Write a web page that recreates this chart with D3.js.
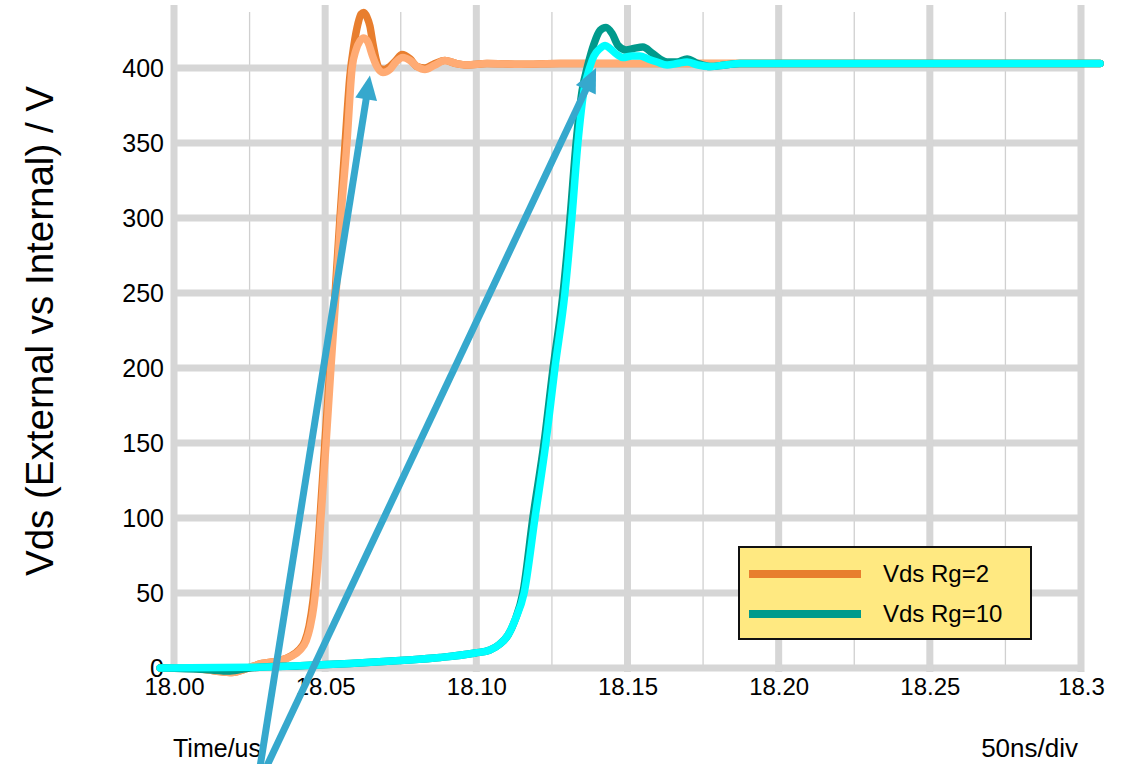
<!DOCTYPE html>
<html>
<head>
<meta charset="utf-8">
<script src="https://cdn.jsdelivr.net/npm/d3@7"></script>
<style>
  html, body { margin: 0; padding: 0; background: #fff; }
  svg { display: block; font-family: "Liberation Sans", Arial, Helvetica, sans-serif; }
</style>
</head>
<body>
<svg id="chart" width="1133" height="764"></svg>
<script>
// Switching waveforms: drain-source voltage, measured at the terminals (external)
// and at the die (internal), for gate resistors of 2 and 10 ohm. Time in µs, volts.

const timeTicks = [18.00, 18.05, 18.10, 18.15, 18.20, 18.25, 18.30];
const timeTickLabels = ["18.00", "18.05", "18.10", "18.15", "18.20", "18.25", "18.3"];
const timeMinorTicks = [18.025, 18.075, 18.125, 18.175, 18.225, 18.275];
const voltTicks = [0, 50, 100, 150, 200, 250, 300, 350, 400];

// Rg = 2, external Vds
const rg2ExtTime = [17.9954, 18.0053, 18.0136, 18.0192, 18.0245, 18.0291, 18.0351, 18.0387, 18.0413, 18.0433,
  18.0447, 18.0460, 18.0470, 18.0483, 18.0499, 18.0516, 18.0533, 18.0549, 18.0566, 18.0582,
  18.0595, 18.0609, 18.0619, 18.0628, 18.0638, 18.0648, 18.0658, 18.0668, 18.0678, 18.0695,
  18.0714, 18.0734, 18.0754, 18.0781, 18.0804, 18.0830, 18.0863, 18.0896, 18.0933, 18.0969,
  18.1035, 18.1144, 18.1277, 18.1475, 18.1740, 18.2071, 18.2401, 18.2732, 18.3063];
const rg2ExtVolt = [0, 0, -2, -3, 0, 3, 5, 8, 12, 18,
  28, 45, 65, 100, 150, 200, 250, 300, 350, 395,
  415, 430, 436, 437, 434, 428, 416, 406, 400, 399,
  401, 405, 409, 406, 401, 400, 403, 405, 403, 402,
  403, 402.5, 403, 403, 403, 403, 403, 403, 403];

// Rg = 2, internal Vds
const rg2IntTime = [17.9954, 18.0053, 18.0136, 18.0192, 18.0245, 18.0291, 18.0351, 18.0390, 18.0417, 18.0437,
  18.0450, 18.0463, 18.0473, 18.0486, 18.0503, 18.0519, 18.0536, 18.0552, 18.0572, 18.0589,
  18.0602, 18.0615, 18.0628, 18.0642, 18.0655, 18.0671, 18.0691, 18.0714, 18.0734, 18.0757,
  18.0781, 18.0804, 18.0830, 18.0863, 18.0896, 18.0933, 18.0969, 18.1035, 18.1144, 18.1277,
  18.1475, 18.1740, 18.2071, 18.2401, 18.2732, 18.3063];
const rg2IntVolt = [0, 0, -2, -3, 0, 3, 5, 8, 12, 18,
  27, 42, 62, 100, 150, 200, 250, 300, 350, 400,
  412, 418, 420, 417, 409, 401, 397, 399, 404, 407,
  405, 401, 399, 402, 405, 403, 402, 403, 402.5, 403,
  403, 403, 403, 403, 403, 403];

// Rg = 10, external Vds
const rg10ExtTime = [17.9954, 18.0103, 18.0185, 18.0251, 18.0417, 18.0582, 18.0748, 18.0880, 18.0996, 18.1045,
  18.1078, 18.1105, 18.1128, 18.1154, 18.1187, 18.1224, 18.1254, 18.1287, 18.1310, 18.1330,
  18.1350, 18.1369, 18.1389, 18.1409, 18.1429, 18.1449, 18.1469, 18.1495, 18.1521, 18.1551,
  18.1581, 18.1607, 18.1631, 18.1664, 18.1697, 18.1733, 18.1773, 18.1822, 18.1872, 18.2071,
  18.2401, 18.2732, 18.3063];
const rg10ExtVolt = [0, -1, -2, 0, 1.5, 3, 5, 7, 10, 12,
  16, 22, 32, 50, 100, 150, 200, 250, 300, 350,
  385, 402, 416, 425, 427, 423, 415, 412, 413, 414,
  410, 406, 404, 404, 406, 403, 401, 402, 403, 403,
  403, 403, 403];

// Rg = 10, internal Vds
const rg10IntTime = [17.9954, 18.0251, 18.0417, 18.0582, 18.0748, 18.0880, 18.0996, 18.1045, 18.1078, 18.1105,
  18.1128, 18.1158, 18.1194, 18.1230, 18.1260, 18.1293, 18.1316, 18.1336, 18.1356, 18.1376,
  18.1389, 18.1409, 18.1426, 18.1442, 18.1465, 18.1485, 18.1515, 18.1541, 18.1568, 18.1598,
  18.1631, 18.1664, 18.1697, 18.1733, 18.1773, 18.1822, 18.1872, 18.2071, 18.2401, 18.2732,
  18.3063];
const rg10IntVolt = [0, 0.5, 1.5, 3, 5, 7, 10, 12, 16, 22,
  32, 50, 100, 150, 200, 250, 300, 350, 385, 401,
  408, 413, 415, 413, 409, 407, 408, 408, 406, 404,
  402, 403, 404, 402, 401, 402, 403, 403, 403, 403,
  403];

// Annotation arrows: [start time, start volt, tip time, tip volt]
const arrowA = [18.0284, -66.7, 18.0648, 395];
const arrowB = [18.0304, -66.7, 18.1396, 400];

const legendLabels = ["Vds Rg=2", "Vds Rg=10"];

const gridColor = "#d6d6d6";
const colRg2Ext = "#e87e2e";
const colRg2Int = "#ffab74";
const colRg10Ext = "#009a8c";
const colRg10Int = "#00ffff";
const arrowColor = "#36a8cd";

const svg = d3.select("#chart");

const x = d3.scaleLinear().domain([18.0, 18.3]).range([174, 1081]);
const y = d3.scaleLinear().domain([0, 400]).range([668, 68]);
const vTop = 442;

// grid
const grid = svg.append("g");
grid.selectAll("line.minor").data(timeMinorTicks).join("line")
  .attr("x1", d => x(d)).attr("x2", d => x(d))
  .attr("y1", y(vTop) + 7).attr("y2", y(0))
  .attr("stroke", "#d0d0d0").attr("stroke-width", 1.3);
grid.selectAll("line.h").data(voltTicks).join("line")
  .attr("x1", x(18.0) - 2).attr("x2", x(18.3) + 2)
  .attr("y1", d => y(d)).attr("y2", d => y(d))
  .attr("stroke", gridColor).attr("stroke-width", 7);
grid.selectAll("line.v").data(timeTicks).join("line")
  .attr("x1", d => x(d)).attr("x2", d => x(d))
  .attr("y1", y(vTop)).attr("y2", y(0) + 4)
  .attr("stroke", gridColor).attr("stroke-width", 7);

// axes labels
const yAxis = d3.axisLeft(y).tickValues(voltTicks).tickSize(0).tickPadding(0);
const gy = svg.append("g").attr("transform", "translate(164,0)").call(yAxis);
gy.select(".domain").remove();
gy.selectAll("text").attr("font-size", 25).attr("fill", "#000")
  .attr("font-family", "Liberation Sans, Arial, sans-serif");

const xAxis = d3.axisBottom(x).tickValues(timeTicks).tickSize(0).tickPadding(0)
  .tickFormat((d, i) => timeTickLabels[i]);
const gx = svg.append("g").attr("transform", "translate(0,678)").call(xAxis);
gx.select(".domain").remove();
gx.selectAll("text").attr("font-size", 24).attr("fill", "#000")
  .attr("font-family", "Liberation Sans, Arial, sans-serif");

svg.append("text")
  .attr("transform", "translate(53,331) rotate(-90)")
  .attr("text-anchor", "middle")
  .attr("font-size", 38.5)
  .text("Vds (External vs Internal) / V");

svg.append("text").attr("x", 173).attr("y", 757).attr("font-size", 25).text("Time/us");
svg.append("text").attr("x", 1078).attr("y", 757).attr("font-size", 26)
  .attr("text-anchor", "end").text("50ns/div");

// waveforms
const line = d3.line().x(d => x(d[0])).y(d => y(d[1])).curve(d3.curveMonotoneX);
const series = [
  [rg2ExtTime, rg2ExtVolt, colRg2Ext],
  [rg2IntTime, rg2IntVolt, colRg2Int],
  [rg10ExtTime, rg10ExtVolt, colRg10Ext],
  [rg10IntTime, rg10IntVolt, colRg10Int]
];
series.forEach(([t, v, c]) => {
  svg.append("path")
    .datum(t.map((d, i) => [d, v[i]]))
    .attr("d", line)
    .attr("fill", "none")
    .attr("stroke", c)
    .attr("stroke-width", 7.5)
    .attr("stroke-linejoin", "round")
    .attr("stroke-linecap", "round");
});

// arrows
function drawArrow(a) {
  const x0 = x(a[0]), y0 = y(a[1]), x1 = x(a[2]), y1 = y(a[3]);
  const dx = x1 - x0, dy = y1 - y0, len = Math.hypot(dx, dy);
  const ux = dx / len, uy = dy / len;
  const headLen = 24, headHalf = 11;
  const bx = x1 - ux * headLen, by = y1 - uy * headLen;
  svg.append("line")
    .attr("x1", x0).attr("y1", y0).attr("x2", bx + ux * 2).attr("y2", by + uy * 2)
    .attr("stroke", arrowColor).attr("stroke-width", 7);
  svg.append("path")
    .attr("d", `M${x1},${y1}L${bx - uy * headHalf},${by + ux * headHalf}L${bx + uy * headHalf},${by - ux * headHalf}Z`)
    .attr("fill", arrowColor);
}
drawArrow(arrowA);
drawArrow(arrowB);

// legend
const lg = svg.append("g");
lg.append("rect").attr("x", 739).attr("y", 547).attr("width", 292).attr("height", 92)
  .attr("fill", "#ffe981").attr("stroke", "#111").attr("stroke-width", 2);
[colRg2Ext, colRg10Ext].forEach((c, i) => {
  lg.append("line").attr("x1", 749).attr("x2", 861)
    .attr("y1", 574 + i * 40).attr("y2", 574 + i * 40)
    .attr("stroke", c).attr("stroke-width", 8);
  lg.append("text").attr("x", 883).attr("y", 582 + i * 40)
    .attr("font-size", 24).text(legendLabels[i]);
});
</script>
</body>
</html>
